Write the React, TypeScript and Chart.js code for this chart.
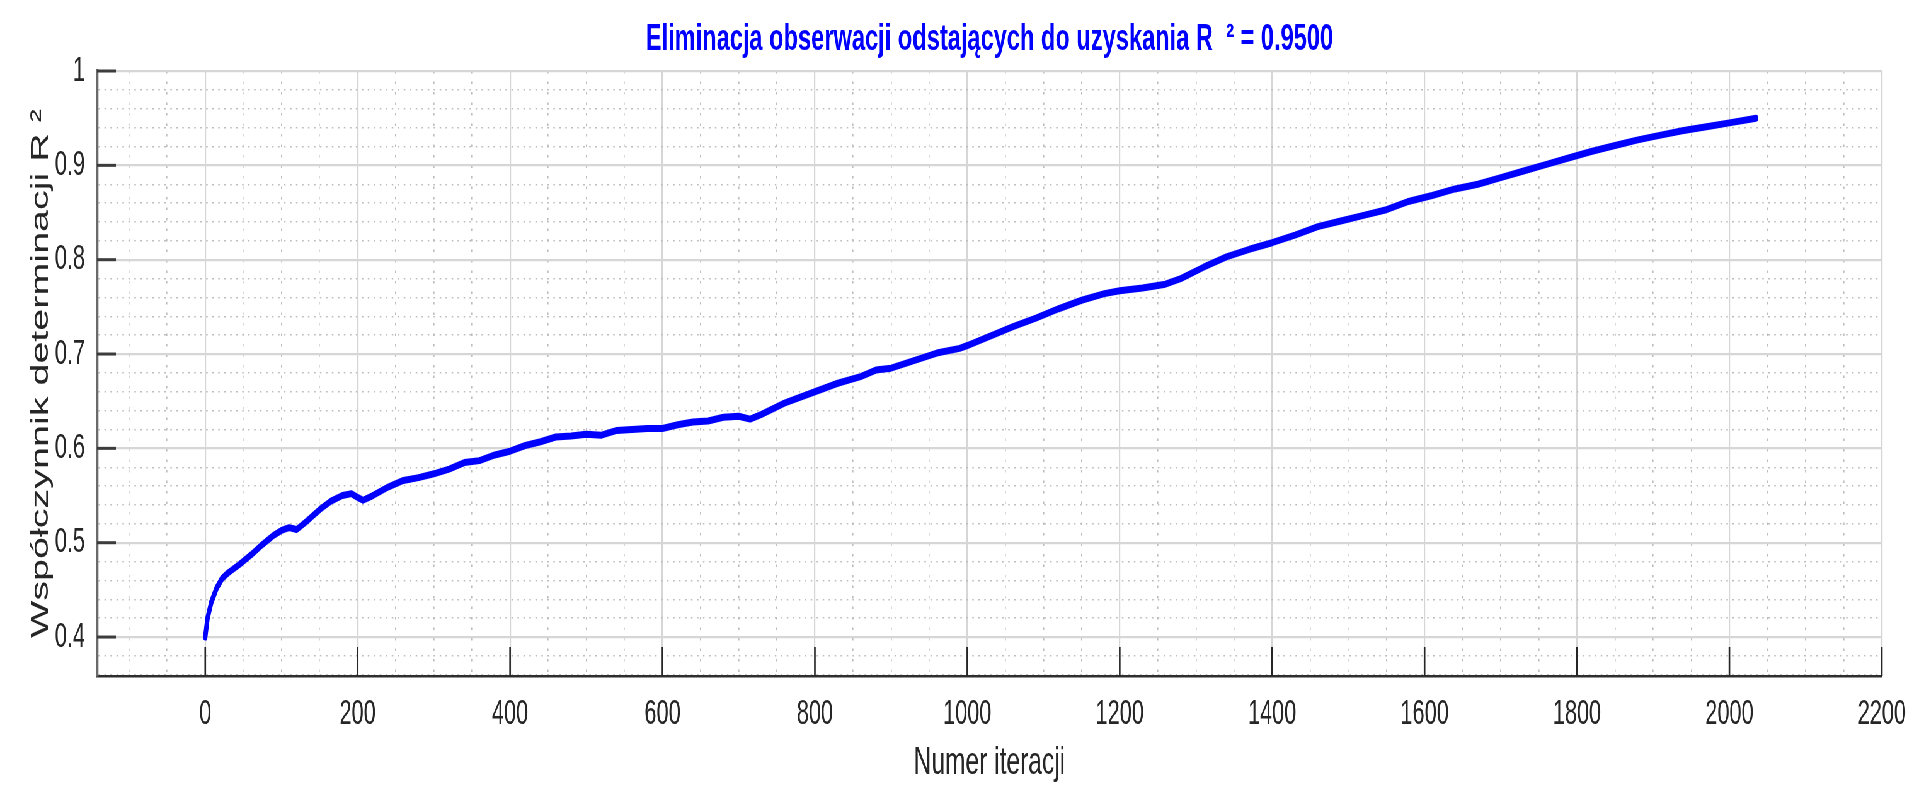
import React, { useEffect, useRef } from 'react';
import { Chart, registerables } from 'chart.js';

Chart.register(...registerables);

// ---- data ----
const ITERATIONS = [
  0, 3, 8, 15, 22, 30, 45, 60, 75, 90, 100, 110, 120, 135, 150, 165, 180, 192, 200, 207,
  220, 240, 260, 280, 300, 320, 340, 360, 380, 400, 420, 440, 460, 480, 500, 520, 540, 560,
  580, 600, 620, 640, 660, 680, 700, 715, 730, 760, 800, 830, 860, 880, 900, 930, 960, 990,
  1000, 1030, 1060, 1090, 1120, 1150, 1180, 1200, 1230, 1260, 1280, 1310, 1340, 1370, 1400,
  1430, 1460, 1490, 1520, 1550, 1580, 1610, 1640, 1670, 1700, 1730, 1760, 1790, 1820, 1850,
  1880, 1910, 1940, 1970, 2000, 2035,
];
const R2_VALUES = [
  0.400, 0.420, 0.437, 0.452, 0.462, 0.468, 0.477, 0.487, 0.498, 0.508, 0.513, 0.516, 0.514,
  0.524, 0.535, 0.544, 0.550, 0.552, 0.548, 0.545, 0.550, 0.559, 0.566, 0.569, 0.573, 0.578,
  0.585, 0.587, 0.593, 0.597, 0.603, 0.607, 0.612, 0.613, 0.615, 0.614, 0.619, 0.620, 0.621,
  0.621, 0.625, 0.628, 0.629, 0.633, 0.634, 0.631, 0.636, 0.648, 0.660, 0.669, 0.676, 0.683,
  0.685, 0.693, 0.701, 0.706, 0.709, 0.719, 0.729, 0.738, 0.748, 0.757, 0.764, 0.767, 0.770,
  0.774, 0.780, 0.792, 0.803, 0.811, 0.818, 0.826, 0.835, 0.841, 0.847, 0.853, 0.862, 0.868,
  0.875, 0.880, 0.887, 0.894, 0.901, 0.908, 0.915, 0.921, 0.927, 0.932, 0.937, 0.941, 0.945,
  0.950,
];

const X_MAJOR = [0, 200, 400, 600, 800, 1000, 1200, 1400, 1600, 1800, 2000, 2200];
const X_TICK_LABELS = ['0', '200', '400', '600', '800', '1000', '1200', '1400', '1600', '1800', '2000', '2200'];
const Y_MAJOR = [0.4, 0.5, 0.6, 0.7, 0.8, 0.9, 1.0];
const Y_TICK_LABELS = ['0.4', '0.5', '0.6', '0.7', '0.8', '0.9', '1'];
const X_MIN = -142;
const X_MAX = 2200;
const X_MINOR_STEP = 50;
const Y_MIN = 0.3587;
const Y_MAX = 1.0;
const Y_MINOR_STEP = 0.02;

const TITLE = 'Eliminacja obserwacji odstających do uzyskania R  ² = 0.9500';
const X_TITLE = 'Numer iteracji';
const Y_TITLE = 'Współczynnik determinacji R ²';

// ---- layout ----
const W = 1929;
const H = 789;
const SQUISH = 0.63; // reference is horizontally compressed
const CW = Math.round(W / SQUISH);
const FONT = '"Liberation Sans", Arial, Helvetica, sans-serif';

const isMajorX = (v: number) => X_MAJOR.some((m) => Math.abs(m - v) < 1e-6);
const isMajorY = (v: number) => Y_MAJOR.some((m) => Math.abs(m - v) < 1e-6);

const innerTicks = {
  id: 'innerTicks',
  beforeDatasetsDraw(chart: any) {
    const { ctx, chartArea, scales } = chart;
    ctx.save();
    ctx.strokeStyle = '#3c3c3c';
    ctx.lineWidth = 3;
    for (const v of Y_MAJOR) {
      const y = scales.y.getPixelForValue(v);
      ctx.beginPath();
      ctx.moveTo(chartArea.left, y);
      ctx.lineTo(chartArea.left + 30, y);
      ctx.stroke();
    }
    ctx.strokeStyle = '#262626';
    ctx.lineWidth = 2.6;
    for (const v of X_MAJOR) {
      const x = scales.x.getPixelForValue(v);
      ctx.beginPath();
      ctx.moveTo(x, chartArea.bottom);
      ctx.lineTo(x, chartArea.bottom - 29);
      ctx.stroke();
    }
    ctx.restore();
  },
};

export default function App() {
  const ref = useRef<HTMLCanvasElement | null>(null);

  useEffect(() => {
    document.body.style.overflow = 'hidden';
    const canvas = ref.current;
    if (!canvas) return;
    const points = ITERATIONS.map((x, i) => ({ x, y: R2_VALUES[i] }));
    const chart = new Chart(canvas, {
      type: 'line',
      data: {
        datasets: [
          {
            data: points,
            borderColor: '#0000ff',
            backgroundColor: '#0000ff',
            borderWidth: 7,
            pointRadius: 0,
            tension: 0,
            fill: false,
            borderJoinStyle: 'round',
            borderCapStyle: 'round',
          },
        ],
      },
      plugins: [innerTicks],
      options: {
        responsive: false,
        animation: false,
        devicePixelRatio: 1,
        layout: { padding: { left: 0, right: CW - 2987, top: 0, bottom: 0 } },
        plugins: {
          legend: { display: false },
          tooltip: { enabled: false },
          title: {
            display: true,
            text: TITLE,
            fullSize: false,
            color: '#0000ff',
            font: { family: FONT, size: 37.5, weight: 'bold', lineHeight: 1.2 },
            padding: { top: 17, bottom: 9 },
          },
        },
        scales: {
          x: {
            type: 'linear',
            min: X_MIN,
            max: X_MAX,
            afterBuildTicks: (scale: any) => {
              const ticks = [];
              for (let v = -100; v <= X_MAX + 1e-6; v += X_MINOR_STEP) ticks.push({ value: v });
              scale.ticks = ticks;
            },
            afterFit: (scale: any) => {
              scale.height = 113;
            },
            ticks: {
              autoSkip: false,
              maxRotation: 0,
              color: '#262626',
              font: { family: FONT, size: 34.5, lineHeight: 1.2 },
              padding: 18,
              callback: (v: any) => {
                const i = X_MAJOR.findIndex((m) => Math.abs(m - v) < 1e-6);
                return i >= 0 ? X_TICK_LABELS[i] : '';
              },
            },
            grid: {
              drawTicks: false,
              color: (c: any) => (c.tick && isMajorX(c.tick.value) ? '#d6d6d6' : '#bdbdbd'),
              lineWidth: (c: any) => (c.tick && isMajorX(c.tick.value) ? 2.2 : 1.6),
            },
            border: {
              display: true,
              color: '#2e2e2e',
              width: 2.5,
              dash: (c: any) => (c.tick && !isMajorX(c.tick.value) ? [2.5, 8] : []),
            },
            title: {
              display: true,
              text: X_TITLE,
              color: '#262626',
              font: { family: FONT, size: 39, lineHeight: 1.2 },
              padding: { top: 0, bottom: 2 },
            },
          },
          y: {
            type: 'linear',
            min: Y_MIN,
            max: Y_MAX,
            afterBuildTicks: (scale: any) => {
              const ticks = [];
              for (let k = 18; k <= 50; k++) ticks.push({ value: Math.round(k * Y_MINOR_STEP * 100) / 100 });
              scale.ticks = ticks;
            },
            afterFit: (scale: any) => {
              scale.width = 154;
            },
            ticks: {
              autoSkip: false,
              color: '#262626',
              font: { family: FONT, size: 34.5, lineHeight: 1.2 },
              padding: 19,
              callback: (v: any) => {
                const i = Y_MAJOR.findIndex((m) => Math.abs(m - v) < 1e-6);
                return i >= 0 ? Y_TICK_LABELS[i] : '';
              },
            },
            grid: {
              drawTicks: false,
              color: (c: any) => (c.tick && isMajorY(c.tick.value) ? '#d6d6d6' : '#bdbdbd'),
              lineWidth: (c: any) => (c.tick && isMajorY(c.tick.value) ? 2.2 : 1.4),
            },
            border: {
              display: true,
              color: '#6a6a6a',
              width: 4.3,
              dash: (c: any) => (c.tick && !isMajorY(c.tick.value) ? [2.5, 7] : []),
            },
            title: {
              display: true,
              text: Y_TITLE,
              color: '#262626',
              font: { family: FONT, size: 39.5, lineHeight: 1.2 },
              padding: { top: 41, bottom: 0 },
            },
          },
        },
      } as any,
    });
    return () => chart.destroy();
  }, []);

  return (
    <div
      style={{
        position: 'fixed',
        left: 0,
        top: 0,
        width: CW + 'px',
        height: H + 'px',
        transform: `scaleX(${SQUISH})`,
        transformOrigin: '0 0',
        background: '#ffffff',
      }}
    >
      <canvas ref={ref} width={CW} height={H} style={{ display: 'block', width: CW + 'px', height: H + 'px' }} />
    </div>
  );
}
